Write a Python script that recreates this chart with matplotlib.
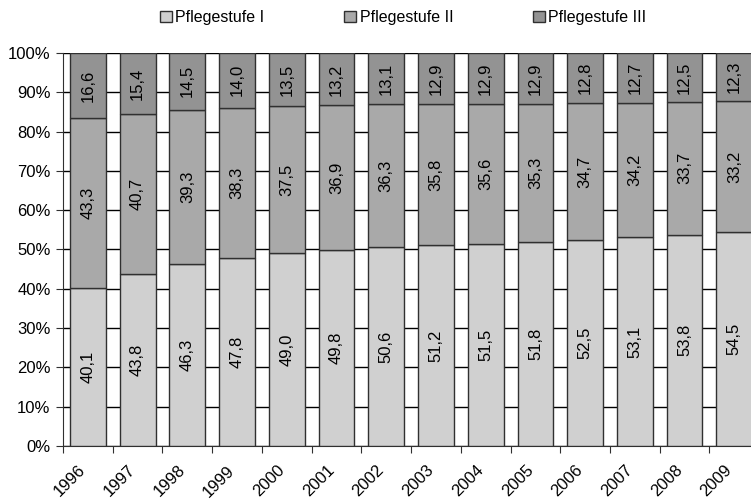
import matplotlib
matplotlib.use("Agg")
import matplotlib.pyplot as plt
from matplotlib.patches import Patch
import numpy as np

plt.rcParams['font.family'] = ['Liberation Sans', 'DejaVu Sans']

years = ["1996", "1997", "1998", "1999", "2000", "2001", "2002",
         "2003", "2004", "2005", "2006", "2007", "2008", "2009"]
stufe1 = [40.1, 43.8, 46.3, 47.8, 49.0, 49.8, 50.6, 51.2, 51.5, 51.8, 52.5, 53.1, 53.8, 54.5]
stufe2 = [43.3, 40.7, 39.3, 38.3, 37.5, 36.9, 36.3, 35.8, 35.6, 35.3, 34.7, 34.2, 33.7, 33.2]
stufe3 = [16.6, 15.4, 14.5, 14.0, 13.5, 13.2, 13.1, 12.9, 12.9, 12.9, 12.8, 12.7, 12.5, 12.3]
series_names = ["Pflegestufe I", "Pflegestufe II", "Pflegestufe III"]
colors = ["#d0d0d0", "#a9a9a9", "#939393"]

fig = plt.figure(figsize=(7.51, 5.01), dpi=100)
ax = fig.add_axes([0.0839, 0.1098, 0.927, 0.7844])

n = len(years)
x = np.arange(n) + 0.5
bottom = np.zeros(n)
for vals, col in zip([stufe1, stufe2, stufe3], colors):
    vals = np.array(vals)
    ax.bar(x, vals, bottom=bottom, width=0.72, color=col, edgecolor="#303030",
           linewidth=1.0, zorder=3)
    for xi, b, v in zip(x, bottom, vals):
        ax.text(xi, b + v / 2, f"{v:.1f}".replace(".", ","), rotation=90,
                ha="center", va="center", fontsize=12, color="black", zorder=4)
    bottom += vals

ax.set_xlim(0, n)
ax.set_ylim(0, 100)
ax.set_yticks(np.arange(0, 101, 10))
ax.set_yticklabels([f"{v}%" for v in range(0, 101, 10)], fontsize=12)
ax.yaxis.grid(True, color="black", linewidth=1.0, zorder=0)
ax.set_axisbelow(True)

ax.set_xticks(np.arange(0, n + 1))
ax.set_xticklabels([])
ax.set_xticks(x - 0.2, minor=True)
ax.set_xticklabels(years, minor=True, rotation=45, ha="right",
                   rotation_mode="anchor", fontsize=12)
ax.tick_params(axis="x", which="minor", length=0, pad=12)
ax.tick_params(axis="x", which="major", length=5, color="#303030")
ax.tick_params(axis="y", length=5, color="#303030", pad=4)

for s in ["top", "right"]:
    ax.spines[s].set_visible(False)
ax.spines["left"].set_color("#303030")
ax.spines["bottom"].set_color("#303030")

handles = [Patch(facecolor=c, edgecolor="#303030", linewidth=1.0) for c in colors]
fig.legend(handles, series_names, loc="center", bbox_to_anchor=(0.537, 0.965),
           ncol=3, frameon=False, fontsize=11.5, handlelength=0.75, handleheight=0.75,
           handletextpad=0.2, columnspacing=5.0)

fig.savefig("out.png", dpi=100)
